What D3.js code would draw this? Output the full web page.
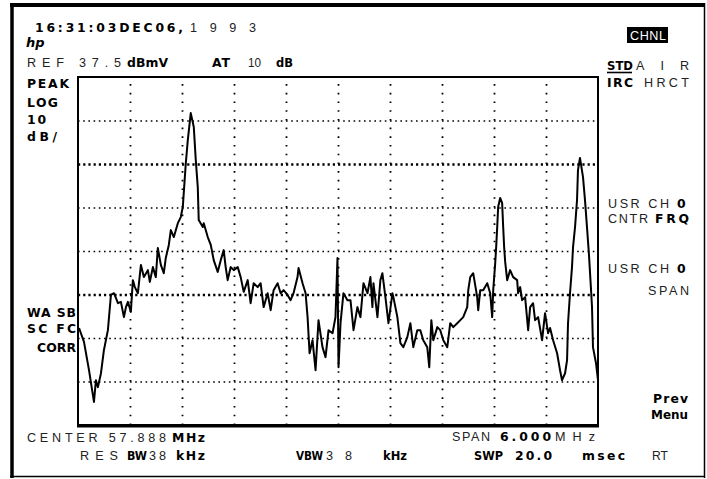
<!DOCTYPE html>
<html><head><meta charset="utf-8">
<script src="https://cdnjs.cloudflare.com/ajax/libs/d3/7.8.5/d3.min.js"></script>
<style>
html,body{margin:0;padding:0;background:#fff;}
svg{display:block;}
</style></head>
<body>
<svg id="c" width="707" height="479"></svg>
<script>
// ---- data ----
const centerMHz = 57.888;
const spanMHz = 6.0;
const refLevelDbmv = 37.5;
const dbPerDiv = 10;
const xDivisions = [0,1,2,3,4,5,6,7,8,9,10];
const yDivisions = [0,1,2,3,4,5,6,7,8];

const freqMHz = [54.900,54.957,55.015,55.072,55.095,55.118,55.153,55.187,55.233,55.268,
55.303,55.349,55.383,55.418,55.441,55.464,55.498,55.521,55.544,55.579,
55.614,55.648,55.694,55.717,55.752,55.786,55.809,55.844,55.878,55.901,
55.936,55.959,55.994,56.040,56.074,56.097,56.132,56.155,56.189,56.224,
56.247,56.270,56.281,56.328,56.339,56.385,56.420,56.454,56.500,56.535,
56.569,56.592,56.615,56.650,56.685,56.731,56.765,56.800,56.846,56.880,
56.915,56.961,56.995,57.030,57.076,57.111,57.145,57.191,57.226,57.260,
57.306,57.341,57.375,57.421,57.433,57.479,57.514,57.537,57.560,57.594,
57.629,57.663,57.709,57.744,57.779,57.825,57.859,57.882,57.894,57.917,
57.951,57.997,58.032,58.067,58.112,58.147,58.182,58.228,58.262,58.285,
58.297,58.343,58.377,58.400,58.435,58.470,58.516,58.527,58.573,58.608,
58.642,58.688,58.723,58.757,58.803,58.838,58.872,58.918,58.941,58.965,
58.988,59.034,59.068,59.103,59.149,59.183,59.218,59.264,59.299,59.333,
59.379,59.391,59.414,59.448,59.494,59.506,59.529,59.563,59.610,59.644,
59.667,59.679,59.702,59.713,59.725,59.736,59.759,59.782,59.794,59.805,
59.817,59.840,59.874,59.909,59.955,59.966,59.990,60.012,60.047,60.082,
60.105,60.139,60.162,60.197,60.243,60.277,60.312,60.335,60.370,60.416,
60.450,60.473,60.508,60.531,60.542,60.565,60.588,60.600,60.623,60.646,
60.657,60.680,60.715,60.738,60.761,60.784,60.819,60.830,60.865,60.888,
60.888];
const levelDbmv = [-20.2,-23.4,-29.9,-37.2,-32.2,-33.8,-30.6,-25.3,-20.7,-12.6,
-12.2,-14.5,-14.2,-17.7,-15.4,-14.2,-16.5,-9.2,-10.8,-12.2,
-5.7,-8.5,-6.9,-9.6,-6.2,-8.5,-1.8,-5.7,-7.6,-4.1,
-1.1,2.3,0.7,3.9,5.3,7.6,17.7,23.0,29.2,26.0,
18.4,12.2,4.6,3.0,3.9,0.7,-1.1,-4.6,-7.3,-4.6,
-2.3,-6.2,-9.2,-6.2,-6.9,-6.2,-8.5,-11.9,-9.2,-14.5,
-9.9,-10.8,-9.9,-15.4,-12.2,-16.1,-11.5,-9.9,-12.2,-11.5,
-12.6,-13.8,-12.2,-8.5,-6.4,-9.9,-12.2,-17.7,-26.0,-23.0,
-29.9,-18.4,-24.6,-26.9,-20.7,-21.4,-17.7,-4.1,-29.2,-19.1,
-12.2,-13.8,-13.8,-20.7,-15.4,-17.7,-9.9,-12.2,-8.5,-15.4,
-9.9,-17.7,-9.2,-7.6,-13.1,-19.1,-12.2,-13.1,-17.7,-23.7,
-24.6,-22.3,-19.1,-24.6,-20.7,-20.7,-23.0,-24.6,-29.2,-18.4,
-23.0,-20.0,-20.7,-23.0,-24.6,-19.1,-20.0,-19.1,-18.4,-17.7,
-15.4,-11.5,-8.5,-7.6,-13.1,-16.1,-11.5,-11.5,-9.9,-12.2,
-17.7,-11.5,-5.3,-1.6,3.0,7.6,9.7,8.5,3.0,-1.6,
-5.0,-9.2,-6.9,-8.5,-9.2,-12.2,-10.8,-13.8,-13.1,-20.7,
-15.4,-14.5,-18.4,-17.7,-23.0,-16.8,-21.4,-20.2,-23.0,-26.0,
-29.9,-32.2,-30.6,-27.6,-19.1,-12.2,-6.2,-1.6,3.0,9.2,
16.1,18.9,14.5,9.2,3.0,-3.4,-15.4,-24.6,-28.3,-32.2,
-42.5];

// ---- layout ----
const svg = d3.select('#c');
const L = 78, R = 598, T = 77, B = 425;
const x = d3.scaleLinear().domain([centerMHz - spanMHz/2, centerMHz + spanMHz/2]).range([L, R]);
const y = d3.scaleLinear().domain([refLevelDbmv - 8*dbPerDiv, refLevelDbmv]).range([B, T]);

// outer page border
svg.append('line').attr('x1',10).attr('x2',705).attr('y1',5).attr('y2',5).attr('stroke','#000').attr('stroke-width',4);
svg.append('line').attr('x1',12).attr('x2',12).attr('y1',3).attr('y2',478).attr('stroke','#000').attr('stroke-width',3.5);
svg.append('line').attr('x1',704.5).attr('x2',704.5).attr('y1',3).attr('y2',478).attr('stroke','#000').attr('stroke-width',1.5);
svg.append('line').attr('x1',10).attr('x2',705).attr('y1',476.5).attr('y2',476.5).attr('stroke','#000').attr('stroke-width',1.5);

// grid via axes
const fTicks = xDivisions.slice(1,-1).map(i => centerMHz - spanMHz/2 + i*spanMHz/10);
const dTicks = yDivisions.slice(1,-1).map(i => refLevelDbmv - i*dbPerDiv);
const gx = svg.append('g').attr('transform',`translate(0,${B})`)
  .call(d3.axisBottom(x).tickValues(fTicks).tickSize(-(B-T)).tickFormat(''));
gx.select('.domain').remove();
gx.selectAll('.tick line').attr('stroke','#000').attr('stroke-width',1.8).attr('stroke-dasharray','1.6 7.1');
const gy = svg.append('g').attr('transform',`translate(${L},0)`)
  .call(d3.axisLeft(y).tickValues(dTicks).tickSize(-(R-L)).tickFormat(''));
gy.select('.domain').remove();
gy.selectAll('.tick line').attr('stroke','#000')
  .attr('stroke-width', d => (d === 17.5 || d === -12.5) ? 2.4 : 1.5)
  .attr('stroke-dasharray', d => (d === 17.5 || d === -12.5) ? '2.2 3.0' : '1.6 3.6');

// graticule frame
svg.append('rect').attr('x',L).attr('y',T).attr('width',R-L).attr('height',B-T)
  .attr('fill','none').attr('stroke','#000').attr('stroke-width',2);
svg.append('line').attr('x1',L-1).attr('x2',R+1).attr('y1',B+1).attr('y2',B+1).attr('stroke','#000').attr('stroke-width',3);

// trace
const pts = freqMHz.map((f,i)=>[f, levelDbmv[i]]);
svg.append('path').datum(pts)
  .attr('d', d3.line().x(d=>x(d[0])).y(d=>y(d[1])))
  .attr('fill','none').attr('stroke','#000').attr('stroke-width',2).attr('stroke-linejoin','round');

// ---- text ----
const BOLD = "'DejaVu Sans', sans-serif";
const LIGHT = "'Liberation Sans', Arial, sans-serif";
function t(x1, x2, yb, s, bold, opts={}) {
  const e = svg.append('text').attr('x', x1).attr('y', yb).text(s)
    .attr('font-family', bold ? BOLD : LIGHT)
    .attr('font-weight', bold ? 'bold' : 'normal')
    .attr('font-size', bold ? 12.4 : 12.6)
    .attr('fill', opts.fill || (bold ? '#000' : '#222'));
  if (x2 !== null) {
    const nat = e.node().getComputedTextLength();
    e.attr('textLength', x2 - x1).attr('lengthAdjust', nat > (x2 - x1) ? 'spacingAndGlyphs' : 'spacing');
  }
  return e;
}
// top
t(35, 183, 32, '16:31:03DEC06,', true);
t(190, 256, 32, '1993', false);
svg.append('text').attr('x',26).attr('y',47).text('hp').attr('font-family',"'DejaVu Sans'")
  .attr('font-weight','bold').attr('font-style','italic').attr('font-size',13).attr('fill','#000');
t(27, 121, 67, 'REF 37.5', false);
t(127, 168, 67, 'dBmV', true);
t(212, 230, 67, 'AT', true);
t(248, 261, 67, '10', false);
t(276, 293, 67, 'dB', true);

// left labels
t(27, 69, 88, 'PEAK', true);
t(27, 58, 107, 'LOG', true);
t(27, 46, 124, '10', true);
t(27, 57, 141, 'dB/', true);
t(27, 76, 317, 'WA SB', true);
t(27, 76, 333, 'SC FC', true);
t(37, 76, 352, 'CORR', true);

// right labels
svg.append('rect').attr('x',627).attr('y',27).attr('width',41).attr('height',16).attr('fill','#000');
t(630, 666, 40, 'CHNL', false, {fill:'#fff'});
t(607, 633, 70, 'STD', true);
svg.append('line').attr('x1',607).attr('x2',632).attr('y1',72.5).attr('y2',72.5).attr('stroke','#000').attr('stroke-width',1.6);
t(636, 689, 70, 'AIR', false);
t(607, 633, 87, 'IRC', true);
t(644, 689, 87, 'HRCT', false);
t(608, 669, 208, 'USR CH', false);
t(677, 688, 208, '0', true);
t(608, 648, 223, 'CNTR', false);
t(655, 689, 223, 'FRQ', true);
t(608, 669, 273, 'USR CH', false);
t(677, 688, 273, '0', true);
t(648, 689, 295, 'SPAN', false);
t(653, 688, 403, 'Prev', true);
t(651, 688, 419, 'Menu', true);

// bottom
t(27, 166, 442, 'CENTER 57.888', false);
t(172, 205, 442, 'MHz', true);
t(80, 118, 460, 'RES', false);
t(127, 147, 460, 'BW', true);
t(149, 166, 460, '38', false);
t(176, 205, 460, 'kHz', true);
t(296, 323, 460, 'VBW', true);
t(326, 352, 460, '3 8', false);
t(383, 407, 460, 'kHz', true);
t(452, 490, 441, 'SPAN', false);
t(500, 551, 441, '6.000', true);
t(555, 595, 441, 'MHz', false);
t(474, 503, 460, 'SWP', true);
t(515, 552, 460, '20.0', true);
t(582, 625, 460, 'msec', true);
t(652, 668, 460, 'RT', false);
</script>
</body></html>
